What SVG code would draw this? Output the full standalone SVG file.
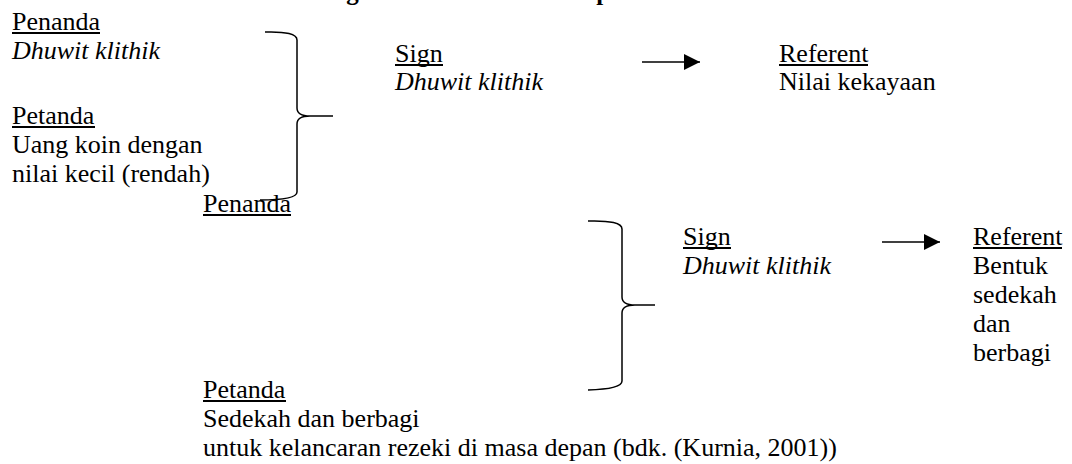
<svg xmlns="http://www.w3.org/2000/svg" width="1072" height="464" viewBox="0 0 1072 464">
<style>
text{font-family:"Liberation Serif","Times New Roman",serif;font-size:26px;fill:#000}
.it{font-style:italic}
.tt{font-weight:bold;font-size:25px}
.ul{stroke:#000;stroke-width:1.8}
.br{fill:none;stroke:#000;stroke-width:1.5}
.ar{stroke:#000;stroke-width:1.4}
</style>
<defs>
<marker id="ah" markerUnits="userSpaceOnUse" markerWidth="16" markerHeight="16" refX="16" refY="8" orient="auto">
<path d="M0,0 L16,8 L0,16 Z" fill="#000"/>
</marker>
</defs>
<rect width="1072" height="464" fill="#fff"/>
<g id="title"><text class="tt" x="317" y="0.2">Bagan 4.3 Semiotik Konsep Dhuwit Klithik</text></g>
<g id="signifier1">
<text x="12" y="30">Penanda</text><line class="ul" x1="12" y1="33" x2="100" y2="33"/>
<text class="it" x="12" y="59">Dhuwit klithik</text>
<text x="12" y="124">Petanda</text><line class="ul" x1="12" y1="127" x2="95" y2="127"/>
<text x="12" y="153">Uang koin dengan</text>
<text x="12" y="182">nilai kecil (rendah)</text>
</g>
<g id="sign1">
<text x="395" y="62">Sign</text><line class="ul" x1="395" y1="65" x2="443" y2="65"/>
<text class="it" x="395" y="90">Dhuwit klithik</text>
</g>
<g id="referent1">
<text x="779" y="62">Referent</text><line class="ul" x1="779" y1="65" x2="868" y2="65"/>
<text x="779" y="90">Nilai kekayaan</text>
</g>
<g id="signifier2">
<text x="203" y="212">Penanda</text><line class="ul" x1="203" y1="215" x2="291" y2="215"/>
<text x="203" y="398">Petanda</text><line class="ul" x1="203" y1="401" x2="286" y2="401"/>
<text x="203" y="427">Sedekah dan berbagi</text>
<text x="203" y="456">untuk kelancaran rezeki di masa depan (bdk. (Kurnia, 2001))</text>
</g>
<g id="sign2">
<text x="683" y="245">Sign</text><line class="ul" x1="683" y1="248" x2="731" y2="248"/>
<text class="it" x="683" y="274">Dhuwit klithik</text>
</g>
<g id="referent2">
<text x="973" y="245">Referent</text><line class="ul" x1="973" y1="248" x2="1062" y2="248"/>
<text x="973" y="274">Bentuk</text>
<text x="973" y="303">sedekah</text>
<text x="973" y="332">dan</text>
<text x="973" y="361">berbagi</text>
</g>
<g id="connectors">
<path class="br" d="M265,32 Q297,31 297,40 L297,108 Q297,116 310,116 L333,116 M310,116 Q297,116 297,124 L297,192 Q297,200 260,200"/>
<path class="br" d="M588,221 Q622,220 622,229 L622,297 Q622,305 635,305 L655,305 M635,305 Q622,305 622,313 L622,381 Q622,389 588,390"/>
<line class="ar" x1="642" y1="62" x2="700" y2="62" marker-end="url(#ah)"/>
<line class="ar" x1="882" y1="242" x2="940" y2="242" marker-end="url(#ah)"/>
</g>
</svg>
